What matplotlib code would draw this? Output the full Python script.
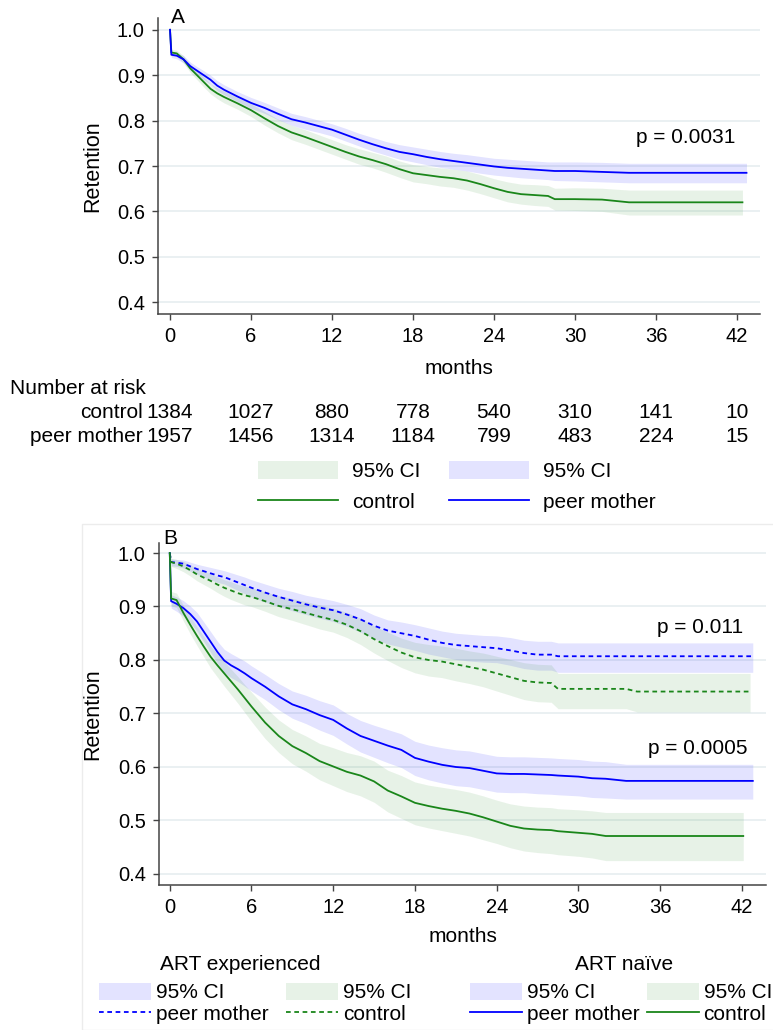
import matplotlib
matplotlib.use("Agg")
import matplotlib.pyplot as plt
import matplotlib.transforms as mtransforms
from matplotlib.lines import Line2D
from matplotlib.patches import Patch, Rectangle

plt.rcParams["font.family"] = ["Liberation Sans", "DejaVu Sans"]

W, H = 773, 1030
BLUE = "#0000ff"
GREEN = "#1a861a"
GRID = "#e6eef0"
SPINE = "#444444"

# ---- panel A: all women (Kaplan-Meier) ----
time_a = [0, 0.1, 0.5, 1, 1.5, 2, 2.5, 3, 3.5, 4, 5, 6, 7, 8, 9, 10, 11, 12, 13, 14, 15,
          16, 17, 18, 19, 20, 21, 22, 23, 24, 25, 26, 27, 28, 28.5, 30, 32, 34]
peer_a = [1.0, .945, .943, .935, .92, .91, .90, .89, .877, .868, .853, .839, .828, .815, .803,
          .796, .788, .780, .769, .758, .748, .739, .731, .726, .72, .715, .711, .707, .703,
          .699, .696, .694, .692, .69, .689, .689, .687, .685]
peer_a_hi = [1.0, .951, .950, .943, .929, .919, .910, .900, .888, .879, .864, .851, .840, .828,
             .816, .809, .801, .793, .783, .772, .763, .754, .747, .742, .737, .732, .728, .725,
             .721, .717, .715, .713, .711, .709, .709, .709, .708, .706]
peer_a_lo = [1.0, .939, .936, .927, .911, .901, .890, .880, .866, .857, .842, .827, .816, .802,
             .790, .781, .774, .766, .755, .744, .733, .724, .715, .709, .703, .697, .693, .689,
             .684, .680, .677, .674, .672, .670, .668, .667, .665, .663]
ctrl_a = [1.0, .95, .948, .935, .915, .90, .885, .87, .86, .852, .838, .823, .805, .788, .774,
          .764, .753, .742, .731, .721, .713, .704, .693, .684, .68, .676, .673, .668, .66, .651,
          .643, .638, .636, .634, .627, .627, .626, .62]
ctrl_a_hi = [1.0, .957, .955, .943, .924, .910, .896, .881, .872, .865, .851, .837, .820, .803,
             .790, .780, .769, .758, .747, .738, .730, .722, .711, .703, .699, .696, .693, .689,
             .681, .672, .665, .660, .659, .657, .651, .652, .651, .647]
ctrl_a_lo = [1.0, .943, .941, .927, .906, .890, .874, .859, .848, .839, .825, .809, .790, .773,
             .758, .748, .737, .726, .715, .704, .696, .686, .675, .665, .661, .656, .653, .647,
             .639, .630, .621, .616, .613, .611, .603, .602, .600, .592]
end_peer_a, end_ctrl_a = 42.7, 42.4

risk_times = [0, 6, 12, 18, 24, 30, 36, 42]
risk_ctrl = [1384, 1027, 880, 778, 540, 310, 141, 10]
risk_peer = [1957, 1456, 1314, 1184, 799, 483, 224, 15]

# ---- panel B: by ART status ----
time_b = [0, 0.1, 0.5, 1, 1.5, 2, 2.5, 3, 3.5, 4, 4.5, 5, 5.5, 6, 7, 8, 9, 10, 11, 12, 13, 14,
          15, 16, 17, 18, 19, 20, 21, 22, 23, 24, 25, 26, 27, 28, 28.5, 30, 31, 32, 33.5, 34.3]
exp_peer = [1.0, .983, .982, .98, .975, .97, .966, .962, .958, .955, .95, .945, .94, .935, .926,
            .918, .911, .904, .898, .893, .885, .876, .864, .855, .85, .845, .838, .832, .828,
            .826, .824, .822, .818, .813, .81, .81, .807, .807, .807, .807, .807, .807]
exp_peer_hi = [1.0, .989, .988, .987, .983, .979, .976, .973, .970, .967, .963, .959, .955, .950,
               .942, .934, .928, .921, .916, .911, .904, .896, .884, .875, .871, .866, .860,
               .854, .850, .848, .846, .845, .842, .837, .835, .835, .832, .832, .832, .832,
               .832, .832]
exp_peer_lo = [1.0, .976, .975, .972, .966, .960, .955, .950, .945, .942, .936, .930, .924, .918,
               .908, .900, .892, .885, .878, .872, .863, .852, .840, .830, .824, .818, .811,
               .806, .801, .798, .796, .795, .790, .784, .781, .781, .777, .777, .777, .777,
               .777, .777]
exp_ctrl = [1.0, .983, .98, .975, .968, .96, .954, .948, .941, .935, .93, .925, .921, .918, .91,
            .901, .895, .888, .881, .875, .866, .854, .839, .826, .814, .805, .80, .797, .792,
            .787, .782, .775, .768, .761, .758, .757, .746, .746, .746, .746, .746, .741]
exp_ctrl_hi = [1.0, .990, .988, .984, .978, .971, .966, .961, .955, .950, .946, .941, .938, .935,
               .928, .920, .915, .909, .903, .897, .889, .878, .864, .852, .841, .833, .829,
               .826, .822, .817, .813, .807, .801, .795, .792, .791, .775, .775, .775, .775,
               .775, .775]
exp_ctrl_lo = [1.0, .975, .971, .965, .957, .948, .941, .934, .926, .919, .913, .908, .903, .900,
               .891, .881, .874, .866, .858, .852, .842, .829, .813, .799, .786, .776, .770,
               .767, .761, .756, .750, .742, .734, .726, .722, .721, .709, .709, .709, .709,
               .709, .703]
nai_peer = [1.0, .91, .905, .897, .886, .872, .853, .834, .815, .799, .79, .783, .775, .766, .75,
            .732, .717, .708, .697, .688, .672, .658, .649, .64, .632, .617, .61, .604, .60,
            .598, .593, .588, .587, .587, .586, .585, .584, .582, .579, .578, .574, .574]
nai_peer_hi = [1.0, .922, .918, .911, .901, .889, .871, .853, .835, .820, .812, .805, .798, .789,
               .773, .756, .742, .734, .724, .716, .700, .687, .678, .670, .662, .648, .641,
               .636, .632, .630, .625, .620, .619, .619, .618, .617, .616, .614, .611, .610,
               .605, .605]
nai_peer_lo = [1.0, .897, .891, .882, .870, .854, .834, .814, .794, .777, .767, .760, .751, .742,
               .726, .707, .691, .681, .669, .659, .643, .628, .618, .608, .599, .584, .576,
               .570, .565, .563, .558, .553, .552, .552, .550, .549, .548, .546, .543, .542,
               .540, .540]
nai_ctrl = [1.0, .915, .912, .888, .866, .845, .825, .806, .79, .775, .76, .745, .729, .713, .683,
            .658, .639, .626, .611, .601, .591, .584, .573, .556, .545, .533, .527, .522, .518,
            .513, .506, .498, .49, .485, .483, .482, .48, .477, .475, .471, .471, .471]
nai_ctrl_hi = [1.0, .928, .925, .902, .882, .862, .844, .826, .811, .797, .783, .769, .754, .740,
               .712, .688, .670, .658, .644, .636, .627, .621, .611, .594, .584, .572, .566,
               .562, .558, .553, .546, .538, .531, .527, .525, .524, .522, .520, .518, .515,
               .515, .515]
nai_ctrl_lo = [1.0, .901, .898, .873, .849, .827, .806, .785, .768, .751, .735, .719, .702, .685,
               .653, .627, .606, .592, .576, .565, .554, .546, .534, .516, .504, .492, .486,
               .481, .476, .471, .464, .457, .449, .443, .440, .438, .436, .433, .430, .425,
               .425, .425]
end_exp_peer, end_exp_ctrl, end_nai_peer, end_nai_ctrl = 42.8, 42.6, 42.8, 42.1


def km(ax, t, s, lo, hi, end, color, band_alpha=0.1):
    # carry the last estimate out to the last follow-up time
    t = list(t) + [end]
    s, lo, hi = list(s) + [s[-1]], list(lo) + [lo[-1]], list(hi) + [hi[-1]]
    ax.fill_between(t, lo, hi, color=color, alpha=band_alpha, lw=0)
    return t, s


def style(ax, xlim, ylim):
    ax.set_xlim(*xlim)
    ax.set_ylim(*ylim)
    ax.set_xticks(risk_times)
    ax.set_yticks([0.4, 0.5, 0.6, 0.7, 0.8, 0.9, 1.0])
    ax.set_yticklabels([f"{v:.1f}" for v in ax.get_yticks()])
    ax.grid(axis="y", color=GRID, lw=1.2)
    ax.set_axisbelow(True)
    for side in ("top", "right"):
        ax.spines[side].set_visible(False)
    for side in ("left", "bottom"):
        ax.spines[side].set_color(SPINE)
        ax.spines[side].set_linewidth(1.1)
    ax.tick_params(length=4.5, width=1, color=SPINE, labelsize=14.5, pad=5)


fig = plt.figure(figsize=(W / 100, H / 100), dpi=100)
fig.patches.append(Rectangle((82 / W, 0), 1, 1 - 524 / H, transform=fig.transFigure,
                             fill=False, ec="#ececec", lw=1))

# ---------------- panel A ----------------
axA = fig.add_axes([158 / W, 1 - 314 / H, 602 / W, 296 / H])
style(axA, (-0.89, 43.7), (0.374, 1.026))
tg, sg = km(axA, time_a, ctrl_a, ctrl_a_lo, ctrl_a_hi, end_ctrl_a, GREEN)
tb, sb = km(axA, time_a, peer_a, peer_a_lo, peer_a_hi, end_peer_a, BLUE, band_alpha=0.11)
axA.plot(tg, sg, color=GREEN, lw=1.3)
axA.plot(tb, sb, color=BLUE, lw=1.3)
axA.text(41.85, 0.762, "p = 0.0031", ha="right", va="center", fontsize=15)
axA.text(171 / W, 1 - 17.5 / H, "A", transform=fig.transFigure, va="center", fontsize=15)
axA.set_xlabel("months", fontsize=15)
axA.xaxis.set_label_coords(0.5, (314 - 369) / 296)
axA.xaxis.label.set_va("center")
axA.set_ylabel("Retention", fontsize=15.5)
axA.yaxis.set_label_coords((93 - 158) / 602, 0.5)
axA.yaxis.label.set_va("center")

# number at risk table
tr = mtransforms.blended_transform_factory(axA.transData, fig.transFigure)
fig.text(10 / W, 1 - 388 / H, "Number at risk", va="center", fontsize=15)
fig.text(143 / W, 1 - 412 / H, "control", ha="right", va="center", fontsize=15)
fig.text(143 / W, 1 - 436 / H, "peer mother", ha="right", va="center", fontsize=15)
for t, c, p in zip(risk_times, risk_ctrl, risk_peer):
    axA.text(t, 1 - 412 / H, str(c), transform=tr, ha="center", va="center", fontsize=15)
    axA.text(t, 1 - 436 / H, str(p), transform=tr, ha="center", va="center", fontsize=15)

fs_px = 15 * 100 / 72
fig.legend([Patch(fc=GREEN, alpha=0.1, lw=0), Line2D([], [], color=GREEN, lw=1.3),
            Patch(fc=BLUE, alpha=0.11, lw=0), Line2D([], [], color=BLUE, lw=1.3)],
           ["95% CI", "control", "95% CI", "peer mother"], ncol=2, fontsize=15,
           loc="center left", bbox_to_anchor=(258 / W, 1 - 486.5 / H), frameon=False,
           borderpad=0, borderaxespad=0, handlelength=80 / fs_px, handleheight=1.0,
           handletextpad=14 / fs_px, columnspacing=29 / fs_px, labelspacing=0.5)

# ---------------- panel B ----------------
axB = fig.add_axes([159 / W, 1 - 885 / H, 607 / W, 342 / H])
style(axB, (-0.79, 43.77), (0.3794, 1.0187))
dash = (0, (2.6, 2.0))
series = [
    (exp_peer, exp_peer_lo, exp_peer_hi, end_exp_peer, BLUE, dash),
    (exp_ctrl, exp_ctrl_lo, exp_ctrl_hi, end_exp_ctrl, GREEN, dash),
    (nai_peer, nai_peer_lo, nai_peer_hi, end_nai_peer, BLUE, "-"),
    (nai_ctrl, nai_ctrl_lo, nai_ctrl_hi, end_nai_ctrl, GREEN, "-"),
]
lines = []
for s, lo, hi, end, col, ls in series:
    alpha = 0.11 if col == BLUE else 0.1
    lines.append((km(axB, time_b, s, lo, hi, end, col, band_alpha=alpha), col, ls))
for (t, s), col, ls in lines:
    axB.plot(t, s, color=col, lw=1.3, linestyle=ls)
axB.text(42.1, 0.86, "p = 0.011", ha="right", va="center", fontsize=15)
axB.text(42.4, 0.635, "p = 0.0005", ha="right", va="center", fontsize=15)
axB.text(163 / W, 1 - 538 / H, "B", transform=fig.transFigure, va="center", fontsize=15)
axB.set_xlabel("months", fontsize=15)
axB.xaxis.set_label_coords(0.5, (885 - 936) / 342)
axB.xaxis.label.set_va("center")
axB.set_ylabel("Retention", fontsize=15.5)
axB.yaxis.set_label_coords((93 - 159) / 607, 0.5)
axB.yaxis.label.set_va("center")

fig.text(240 / W, 1 - 964 / H, "ART experienced", ha="center", va="center", fontsize=15)
fig.text(624 / W, 1 - 964 / H, "ART naïve", ha="center", va="center", fontsize=15)
for x0, ls, gap in ((99, dash, 17), (470, "-", 7)):
    fig.legend([Patch(fc=BLUE, alpha=0.11, lw=0), Line2D([], [], color=BLUE, lw=1.3, ls=ls),
                Patch(fc=GREEN, alpha=0.1, lw=0), Line2D([], [], color=GREEN, lw=1.3, ls=ls)],
               ["95% CI", "peer mother", "95% CI", "control"], ncol=2, fontsize=15,
               loc="center left", bbox_to_anchor=(x0 / W, 1 - 1003.5 / H), frameon=False,
               borderpad=0, borderaxespad=0, handlelength=52 / fs_px, handleheight=0.86,
               handletextpad=5 / fs_px, columnspacing=gap / fs_px, labelspacing=0.1)

fig.savefig("out.png", dpi=100)
